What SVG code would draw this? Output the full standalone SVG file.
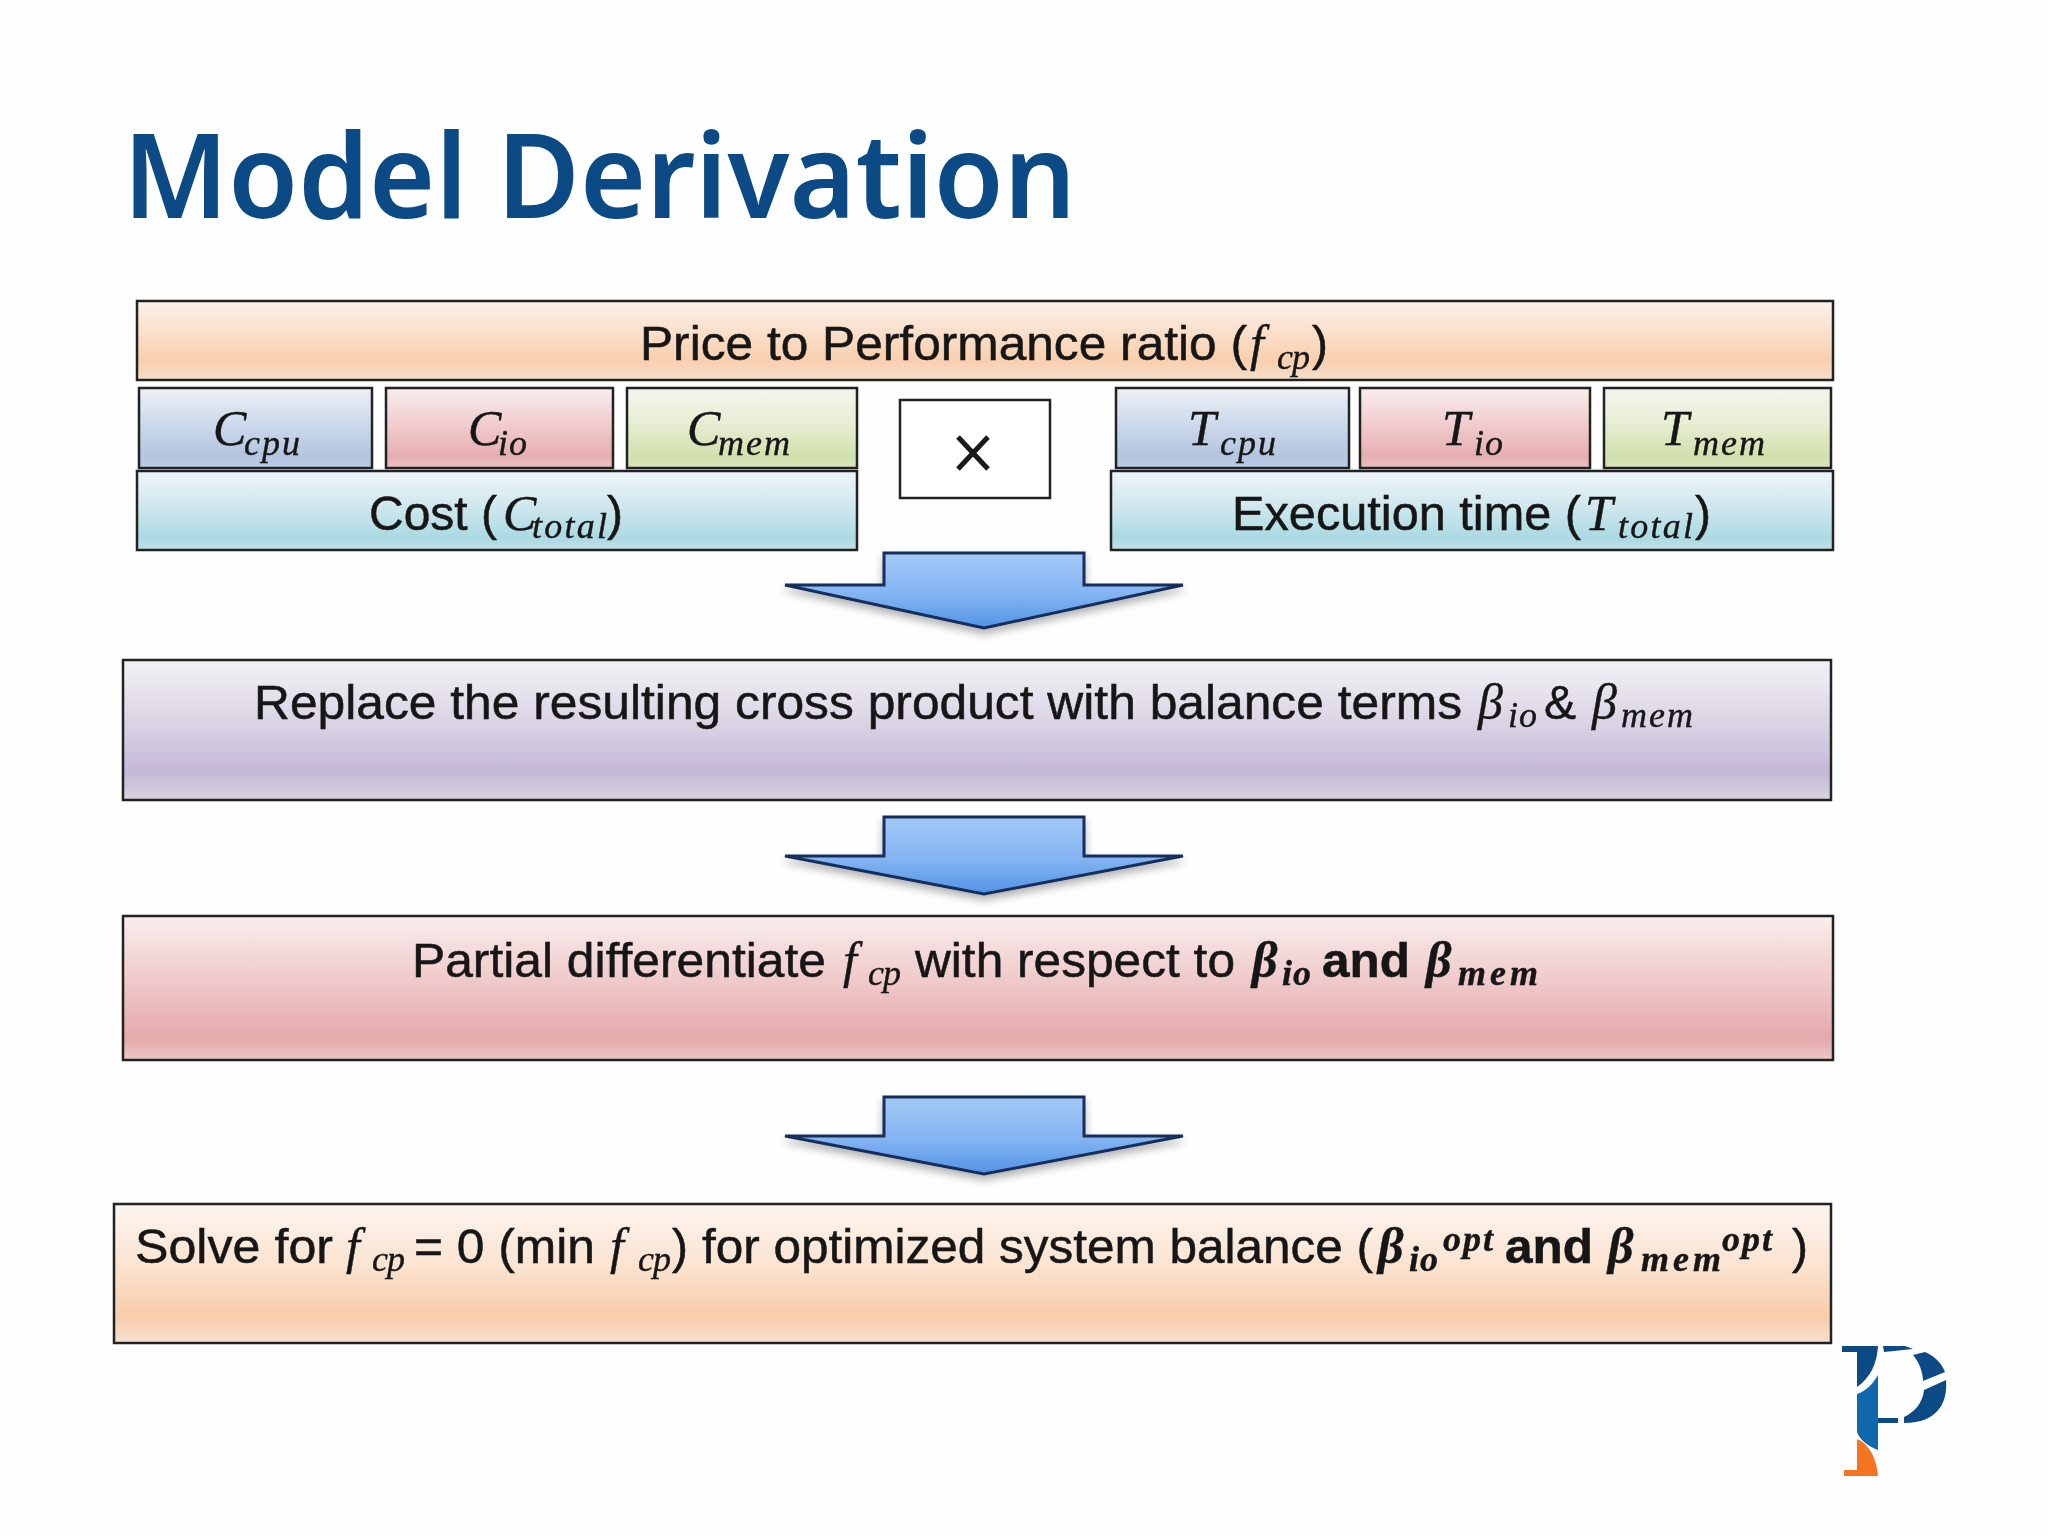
<svg xmlns="http://www.w3.org/2000/svg" width="2048" height="1536" viewBox="0 0 2048 1536">
<defs>
<linearGradient id="gO" x1="0" y1="0" x2="0" y2="1"><stop offset="0" stop-color="#fdf2ea"/><stop offset="0.25" stop-color="#fbe6d6"/><stop offset="0.75" stop-color="#f9cfae"/><stop offset="1" stop-color="#f5dfcc"/></linearGradient>
<linearGradient id="gB" x1="0" y1="0" x2="0" y2="1"><stop offset="0" stop-color="#eef0f5"/><stop offset="0.4" stop-color="#cfdcec"/><stop offset="0.85" stop-color="#b3c5e0"/><stop offset="1" stop-color="#bccde3"/></linearGradient>
<linearGradient id="gR" x1="0" y1="0" x2="0" y2="1"><stop offset="0" stop-color="#f8eeee"/><stop offset="0.4" stop-color="#f2d0d2"/><stop offset="0.85" stop-color="#e6aeb1"/><stop offset="1" stop-color="#ebc2c3"/></linearGradient>
<linearGradient id="gG" x1="0" y1="0" x2="0" y2="1"><stop offset="0" stop-color="#f3f5ec"/><stop offset="0.45" stop-color="#e6eed3"/><stop offset="0.85" stop-color="#d2e0ac"/><stop offset="1" stop-color="#d9e4bd"/></linearGradient>
<linearGradient id="gC" x1="0" y1="0" x2="0" y2="1"><stop offset="0" stop-color="#eef5fa"/><stop offset="0.4" stop-color="#d3e9ef"/><stop offset="0.85" stop-color="#abd9e3"/><stop offset="1" stop-color="#c5dfe6"/></linearGradient>
<linearGradient id="gP" x1="0" y1="0" x2="0" y2="1"><stop offset="0" stop-color="#f3f2f6"/><stop offset="0.4" stop-color="#ddd7e6"/><stop offset="0.8" stop-color="#c4b9d8"/><stop offset="1" stop-color="#d8d3df"/></linearGradient>
<linearGradient id="gR2" x1="0" y1="0" x2="0" y2="1"><stop offset="0" stop-color="#f9eeee"/><stop offset="0.45" stop-color="#f0c9ca"/><stop offset="0.85" stop-color="#e4a9ab"/><stop offset="1" stop-color="#ecc9c8"/></linearGradient>
<linearGradient id="gO2" x1="0" y1="0" x2="0" y2="1"><stop offset="0" stop-color="#fdf5f0"/><stop offset="0.45" stop-color="#fbe3d0"/><stop offset="0.8" stop-color="#f9ccaa"/><stop offset="1" stop-color="#f6e0cf"/></linearGradient>
<linearGradient id="gA" x1="0" y1="0" x2="0" y2="1"><stop offset="0" stop-color="#a3c8f6"/><stop offset="0.55" stop-color="#84b4f2"/><stop offset="1" stop-color="#5293e6"/></linearGradient>
<filter id="soft" x="-5%" y="-20%" width="110%" height="140%"><feGaussianBlur stdDeviation="0.6"/></filter>
<filter id="sh" x="-10%" y="-20%" width="120%" height="150%"><feGaussianBlur in="SourceAlpha" stdDeviation="4"/><feOffset dy="5"/><feComponentTransfer><feFuncA type="linear" slope="0.3"/></feComponentTransfer><feMerge><feMergeNode/><feMergeNode in="SourceGraphic"/></feMerge></filter>
</defs>
<style>
.b{stroke:#222;stroke-width:2.5}
.t{font-family:"Liberation Sans",Arial,sans-serif;font-size:48px;fill:#161616;stroke:#161616;stroke-width:.5;filter:url(#soft)}
.m{font-family:"Liberation Serif","Times New Roman",serif;font-style:italic;fill:#161616;stroke:#161616;stroke-width:.4;filter:url(#soft)}
.v{font-size:50px}.s{font-size:36px}
.bd{font-weight:bold}
.ar{fill:url(#gA);stroke:#142f5c;stroke-width:3;stroke-linejoin:miter;filter:url(#sh)}
</style>
<rect width="2048" height="1536" fill="#fefefe"/>
<text id="title" x="123" y="218" font-family="'Noto Sans','Open Sans',sans-serif" font-weight="600" font-size="118" fill="#0b4a85" textLength="953" lengthAdjust="spacingAndGlyphs">Model Derivation</text>

<g id="connectors">
<path class="ar" d="M884 553V585H785L984 628L1183 585H1084V553Z"/>
<path class="ar" d="M884 817V856H785L984 894L1183 856H1084V817Z"/>
<path class="ar" d="M884 1097V1136H785L984 1174L1183 1136H1084V1097Z"/>
</g>

<g id="price"><rect class="b" x="137" y="301" width="1696" height="79" fill="url(#gO)"/>
<text class="t" x="640" y="360" textLength="607" lengthAdjust="spacingAndGlyphs">Price to Performance ratio (</text><text class="m v" x="1250" y="360">f</text><text class="m s" x="1277" y="369" textLength="33">cp</text><text class="t" x="1312" y="360">)</text></g>

<g id="c-cpu"><rect class="b" x="139" y="388" width="233" height="80" fill="url(#gB)"/><text class="m v" x="213" y="445">C</text><text class="m s" x="244" y="455" textLength="56">cpu</text></g>
<g id="c-io"><rect class="b" x="386" y="388" width="227" height="80" fill="url(#gR)"/><text class="m v" x="468" y="445">C</text><text class="m s" x="498" y="455" textLength="29">io</text></g>
<g id="c-mem"><rect class="b" x="627" y="388" width="230" height="80" fill="url(#gG)"/><text class="m v" x="687" y="445">C</text><text class="m s" x="718" y="455" textLength="72">mem</text></g>
<g id="cost"><rect class="b" x="137" y="471" width="720" height="79" fill="url(#gC)"/>
<text class="t" x="369" y="530">Cost (</text><text class="m v" x="503" y="530">C</text><text class="m s" x="532" y="538" textLength="75">total</text><text class="t" x="607" y="530">)</text></g>

<g id="times"><rect x="900" y="400" width="150" height="98" fill="#fff" stroke="#222" stroke-width="2.5"/><path d="M958 437L988 469M988 437L958 469" stroke="#1a1a1a" stroke-width="5" fill="none"/></g>

<g id="t-cpu"><rect class="b" x="1116" y="388" width="233" height="80" fill="url(#gB)"/><text class="m v" x="1188" y="445">T</text><text class="m s" x="1220" y="455" textLength="56">cpu</text></g>
<g id="t-io"><rect class="b" x="1360" y="388" width="230" height="80" fill="url(#gR)"/><text class="m v" x="1442" y="445">T</text><text class="m s" x="1474" y="455" textLength="29">io</text></g>
<g id="t-mem"><rect class="b" x="1604" y="388" width="227" height="80" fill="url(#gG)"/><text class="m v" x="1661" y="445">T</text><text class="m s" x="1693" y="455" textLength="72">mem</text></g>
<g id="exec"><rect class="b" x="1111" y="471" width="722" height="79" fill="url(#gC)"/>
<text class="t" x="1232" y="530" textLength="349" lengthAdjust="spacingAndGlyphs">Execution time (</text><text class="m v" x="1585" y="530">T</text><text class="m s" x="1618" y="538" textLength="75">total</text><text class="t" x="1695" y="530">)</text></g>

<g id="replace"><rect class="b" x="123" y="660" width="1708" height="140" fill="url(#gP)"/>
<text class="t" x="254" y="719" textLength="1208" lengthAdjust="spacingAndGlyphs">Replace the resulting cross product with balance terms</text><text class="m v" x="1478" y="719">β</text><text class="m s" x="1508" y="727" textLength="29">io</text><text class="t" x="1544" y="719">&amp;</text><text class="m v" x="1592" y="719">β</text><text class="m s" x="1621" y="727" textLength="72">mem</text></g>

<g id="partial"><rect class="b" x="123" y="916" width="1710" height="144" fill="url(#gR2)"/>
<text class="t" x="412" y="977" textLength="414" lengthAdjust="spacingAndGlyphs">Partial differentiate</text><text class="m v" x="843" y="977">f</text><text class="m s" x="868" y="985" textLength="33">cp</text><text class="t" x="915" y="977" textLength="320" lengthAdjust="spacingAndGlyphs">with respect to</text><text class="m v bd" x="1252" y="977">β</text><text class="m s bd" x="1282" y="985" textLength="29">io</text><text class="t bd" x="1322" y="977" textLength="88" lengthAdjust="spacingAndGlyphs">and</text><text class="m v bd" x="1426" y="977">β</text><text class="m s bd" x="1458" y="985" textLength="80">mem</text></g>

<g id="solve"><rect class="b" x="114" y="1204" width="1717" height="139" fill="url(#gO2)"/>
<text class="t" x="135" y="1263" textLength="198" lengthAdjust="spacingAndGlyphs">Solve for</text><text class="m v" x="346" y="1263">f</text><text class="m s" x="372" y="1271" textLength="33">cp</text><text class="t" x="414" y="1263" textLength="181" lengthAdjust="spacingAndGlyphs">= 0 (min</text><text class="m v" x="610" y="1263">f</text><text class="m s" x="638" y="1271" textLength="33">cp</text><text class="t" x="672" y="1263">)</text><text class="t" x="702" y="1263" textLength="671" lengthAdjust="spacingAndGlyphs">for optimized system balance (</text><text class="m v bd" x="1378" y="1263">β</text><text class="m s bd" x="1409" y="1271" textLength="29">io</text><text class="m s bd" x="1443" y="1251" textLength="50">opt</text><text class="t bd" x="1505" y="1263" textLength="88" lengthAdjust="spacingAndGlyphs">and</text><text class="m v bd" x="1608" y="1263">β</text><text class="m s bd" x="1641" y="1271" textLength="80">mem</text><text class="m s bd" x="1722" y="1251" textLength="50">opt</text><text class="t" x="1792" y="1263">)</text></g>

<g id="logo">
<path fill="#0b4a85" d="M1842 1346H1878C1877 1364 1870 1378 1857 1387V1352H1842Z"/>
<path fill="#0b4a85" d="M1883 1346H1905L1913 1349L1884 1352Z"/>
<path fill="#0b4a85" d="M1913 1355L1925 1352C1935 1356 1942 1364 1945 1372L1923 1381C1923 1372 1919 1362 1913 1355Z"/>
<path fill="#0b4a85" d="M1946 1380C1948 1402 1938 1423 1904 1423V1417C1915 1412 1923 1402 1924 1390Z"/>
<path fill="#0b4a85" d="M1878 1418H1898V1423H1878Z"/>
<path fill="#0f67ad" d="M1878 1375V1450C1868 1446 1860 1440 1857 1432V1394C1866 1391 1873 1384 1878 1375Z"/>
<path fill="#f47421" d="M1857 1439C1868 1443 1877 1458 1878 1476H1844V1470H1857Z"/>
</g>
</svg>
